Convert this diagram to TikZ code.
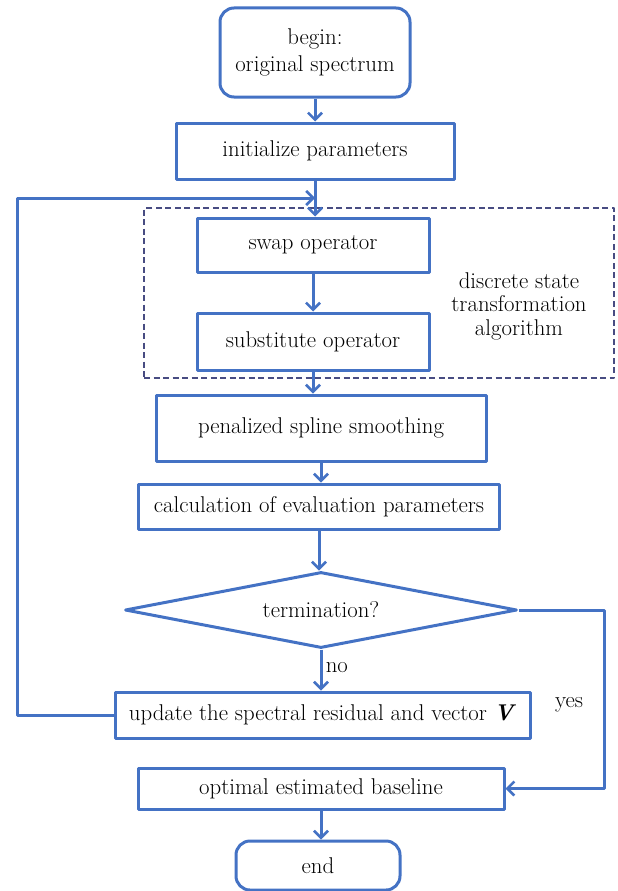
\documentclass[tikz,border=0pt]{standalone}
\usetikzlibrary{shapes.geometric,arrows.meta}
\definecolor{flowblue}{RGB}{68,114,196}
\definecolor{dashnavy}{RGB}{72,76,130}
\begin{document}
\begin{tikzpicture}[x=1pt, y=-1pt, line join=round,
    font=\fontsize{22.8}{23.5}\selectfont,
    >={Straight Barb[length=7pt,width=14pt,line width=2.6pt]},
    box/.style={draw=flowblue, line width=3pt, inner sep=0pt, align=center},
    term/.style={box, rounded corners=14pt},
    link/.style={draw=flowblue, line width=3pt, ->},
    dsbox/.style={draw=dashnavy, line width=2.4pt, dash pattern=on 6pt off 3.5pt}]
    \useasboundingbox (0,0) rectangle (618,891);
    % main column
    \node[term, minimum width=190, minimum height=89, font=\fontsize{22.8}{27}\selectfont] (begin) at (315,52.5) {begin:\\original spectrum};
    \node[box, minimum width=278, minimum height=56] (init) at (315,151) {initialize parameters};
    \node[dsbox, minimum width=470, minimum height=170] (dst) at (379,293) {};
    \node[box, minimum width=232, minimum height=54] (swap) at (313,245) {swap operator};
    \node[box, minimum width=232, minimum height=57] (sub) at (313,341.5) {substitute operator};
    \node[align=center] (dstlbl) at (519,306) {discrete state\\transformation\\algorithm};
    \node[box, minimum width=330, minimum height=66] (pen) at (321,428) {penalized spline smoothing};
    \node[box, minimum width=361, minimum height=45] (calc) at (319,506.5) {calculation of evaluation parameters};
    \node[box, diamond, aspect=6, minimum width=392, minimum height=76] (stop) at (321,610) {termination?};
    \node[box, minimum width=415, minimum height=46] (upd) at (322.5,715) {update the spectral residual and vector \textbf{\textit{V}}};
    \node[box, minimum width=366, minimum height=41] (opt) at (321,788.5) {optimal estimated baseline};
    \node[term, minimum width=164, minimum height=49] (fin) at (318,865.5) {end};
    \node (yes) at (569,705) {yes};
    \coordinate (loop) at (17,198);
    \coordinate (right) at (604,610);
    % connectors
    \draw[link] (begin) -- (begin |- init.north);
    \draw[link] (init) -- (init |- swap.north);
    \draw[link] (swap) -- (sub);
    \draw[link] (sub) -- (sub |- pen.north);
    \draw[link] (pen) -- (pen |- calc.north);
    \draw[link] (calc) -- (calc |- stop.north);
    \draw[link] (stop) -- node[right, pos=0.45] (no) {no} (stop |- upd.north);
    \draw[link] (upd.west) -| (loop) -- (loop -| init.south);
    \draw[link] (stop.east) -- (right) |- (opt.east);
    \draw[link] (opt) -- (opt |- fin.north);
\end{tikzpicture}
\end{document}
